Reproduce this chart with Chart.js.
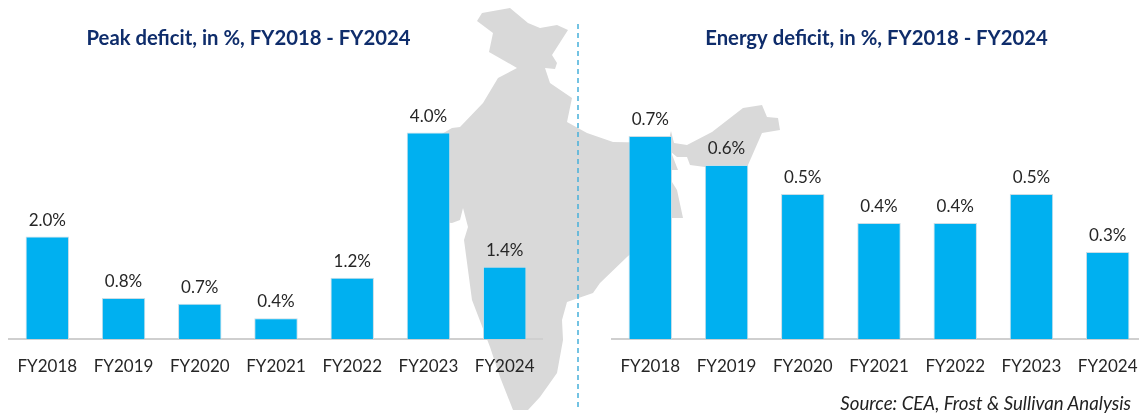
<!DOCTYPE html>
<html>
<head>
<meta charset="utf-8">
<style>
html,body{margin:0;padding:0;background:#fff;width:1139px;height:414px;overflow:hidden;}
#stage{position:relative;width:1139px;height:414px;overflow:hidden;}
#stage svg{position:absolute;left:0;top:0;}
.wrap{position:absolute;top:0;width:552px;height:414px;}
#source{position:absolute;right:8px;top:392px;font:italic 18.7px Lato,sans-serif;color:#222;white-space:nowrap;}
</style>
<script src="https://cdn.jsdelivr.net/npm/chart.js@4"></script>
</head>
<body>
<div id="stage">
<svg width="1139" height="414">
<polygon fill="#D9D9D9" points="477,21 482,13 510,8 528,23 540,28 557,25 568,30 552,55 557,63 555,69 545,68 550,83 572,98 567,122 587,133 613,142 668,143 671,131 674,143 687,145 712,132 743,108 762,105 767,117 778,118 780,130 762,133 748,165 705,167 690,165 687,157 677,157 671,152 678,170 671,170 672,182 677,190 683,218 671,218 627,257 600,283 593,293 567,302 562,320 563,340 557,373 540,397 528,410 513,410 500,377 490,347 472,300 464,240 468,227 463,208 460,220 452,223 440,222 430,200 440,135 452,128 460,127 483,103 498,78 517,68 489,52 493,33"/>
<line x1="578" y1="24" x2="578" y2="410" stroke="#45B0DA" stroke-width="1.5" stroke-dasharray="5 4"/>
</svg>
<div class="wrap" style="left:0"><canvas id="left"></canvas></div>
<div class="wrap" style="left:603px"><canvas id="right"></canvas></div>
<div id="source">Source: CEA, Frost &amp; Sullivan Analysis</div>
</div>
<script>
const categories = ["FY2018","FY2019","FY2020","FY2021","FY2022","FY2023","FY2024"];
const peakDeficit = [1.97,0.79,0.68,0.40,1.18,3.97,1.39];
const peakLabels = ["2.0%","0.8%","0.7%","0.4%","1.2%","4.0%","1.4%"];
const energyDeficit = [0.70,0.60,0.50,0.40,0.40,0.50,0.30];
const energyLabels = ["0.7%","0.6%","0.5%","0.4%","0.4%","0.5%","0.3%"];
const peakMax = 5.365;
const energyMax = 0.962;

const FONT = 'Lato, sans-serif';

const decorations = {
  id:'decorations',
  afterDatasetsDraw(chart, args, opts){
    const {ctx} = chart;
    ctx.save();
    ctx.textAlign = 'center';
    ctx.textBaseline = 'alphabetic';
    ctx.font = '17px ' + FONT;
    ctx.fillStyle = '#262626';
    chart.getDatasetMeta(0).data.forEach((bar,i)=>{
      ctx.fillText(opts.labels[i], bar.x, bar.y - 11);
    });
    ctx.font = 'bold 20.3px ' + FONT;
    ctx.fillStyle = '#0F2D6B';
    ctx.textBaseline = 'middle';
    ctx.fillText(opts.title, opts.titleX, 38);
    ctx.restore();
  }
};

function make(id,title,titleX,values,labels,max){
  return new Chart(document.getElementById(id),{
    type:'bar',
    data:{labels:categories,datasets:[{data:values,backgroundColor:'#00B0F0',borderColor:'#C9DDE6',borderWidth:{left:1,right:1,top:1,bottom:0},categoryPercentage:1,barPercentage:0.57}]},
    plugins:[decorations],
    options:{
      responsive:true,maintainAspectRatio:false,animation:false,
      layout:{padding:{left:8,right:8,top:60,bottom:0}},
      plugins:{
        legend:{display:false},tooltip:{enabled:false},title:{display:false},
        decorations:{labels,title,titleX}
      },
      scales:{
        x:{
          grid:{display:false,drawTicks:false},
          border:{display:true,color:'#CFCFCF',width:2},
          ticks:{color:'#262626',font:{family:FONT,size:17},padding:17,maxRotation:0,autoSkip:false},
          afterFit(s){s.height=75;}
        },
        y:{display:false,min:0,max:max}
      }
    }
  });
}
make('left','Peak deficit, in %, FY2018 - FY2024',248.5,peakDeficit,peakLabels,peakMax);
make('right','Energy deficit, in %, FY2018 - FY2024',273.5,energyDeficit,energyLabels,energyMax);
</script>
</body>
</html>
